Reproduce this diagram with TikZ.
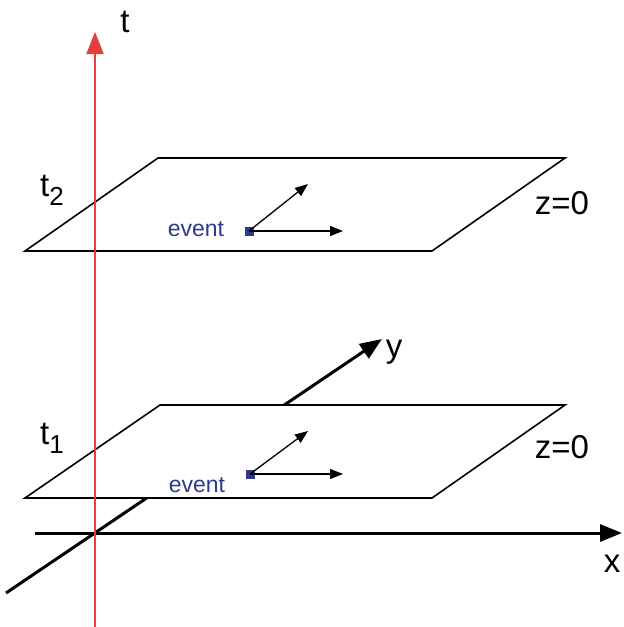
\documentclass[tikz,border=0pt]{standalone}
\usepackage{fontspec}
\setmainfont{Liberation Sans}
\usetikzlibrary{arrows.meta}
\definecolor{taxis}{RGB}{228,62,62}
\definecolor{evblue}{RGB}{48,58,140}
\tikzset{
  plane/.style={draw=black,fill=white,line width=1.6pt,line join=miter},
  axis/.style={line width=3pt,-{Triangle[length=22pt,width=17pt]}},
  taxisline/.style={draw=taxis,line width=2pt,-{Triangle[length=22pt,width=17pt]}},
  evarrow/.style={line width=1.3pt,-{Triangle[length=13pt,width=10pt]}},
  evsq/.style={fill=evblue,minimum size=9pt,inner sep=0pt,draw=none},
  lbl/.style={font=\fontsize{33}{38}\selectfont,inner sep=0pt},
  evlbl/.style={font=\fontsize{23}{27}\selectfont,text=evblue,inner sep=0pt},
}
\newcommand{\tsub}[1]{t\raisebox{-0.28em}{\fontsize{26}{30}\selectfont #1}}
\begin{document}
\begin{tikzpicture}[x=1pt,y=-1pt]
\useasboundingbox (0,0) rectangle (624,627);
% axes coordinates
\coordinate (O) at (95,533);
\coordinate (xs) at (35,533);
\coordinate (xe) at (622,533);
\coordinate (ys) at (6,593);
\coordinate (ye) at (382,339);
\coordinate (ts) at (95,627);
\coordinate (te) at (95,32);
% x and y axes
\draw[axis] (xs) -- (xe);
\draw[axis] (ys) -- (ye);
% lower plane
\coordinate (l1) at (25,498);
\coordinate (l2) at (160,405);
\coordinate (l3) at (565,405);
\coordinate (l4) at (432,498);
\filldraw[plane] (l1) -- (l2) -- (l3) -- (l4) -- cycle;
% upper plane
\coordinate (u1) at (25,251);
\coordinate (u2) at (158,158);
\coordinate (u3) at (565,158);
\coordinate (u4) at (432,251);
\filldraw[plane] (u1) -- (u2) -- (u3) -- (u4) -- cycle;
% t axis
\draw[taxisline] (ts) -- (te);
% labels
\node[lbl] (tl) at (125,22) {t};
\node[lbl] (yl) at (394,352) {y};
\node[lbl] (xl) at (612,564) {x};
\node[lbl] (t2l) at (52,190) {\tsub{2}};
\node[lbl] (t1l) at (52,438) {\tsub{1}};
\node[lbl] (z2l) at (562,203) {z=0};
\node[lbl] (z1l) at (562,447) {z=0};
% upper event
\node[evsq] (e2) at (249,231) {};
\node[evlbl] (e2l) at (196,229) {event};
\coordinate (e2h) at (343,231);
\coordinate (e2d) at (308,184);
\draw[evarrow] (e2.center) -- (e2h);
\draw[evarrow] (e2.center) -- (e2d);
% lower event
\node[evsq] (e1) at (250,474) {};
\node[evlbl] (e1l) at (197,485) {event};
\coordinate (e1h) at (343,474);
\coordinate (e1d) at (308,431);
\draw[evarrow] (e1.center) -- (e1h);
\draw[evarrow] (e1.center) -- (e1d);
\end{tikzpicture}
\end{document}
